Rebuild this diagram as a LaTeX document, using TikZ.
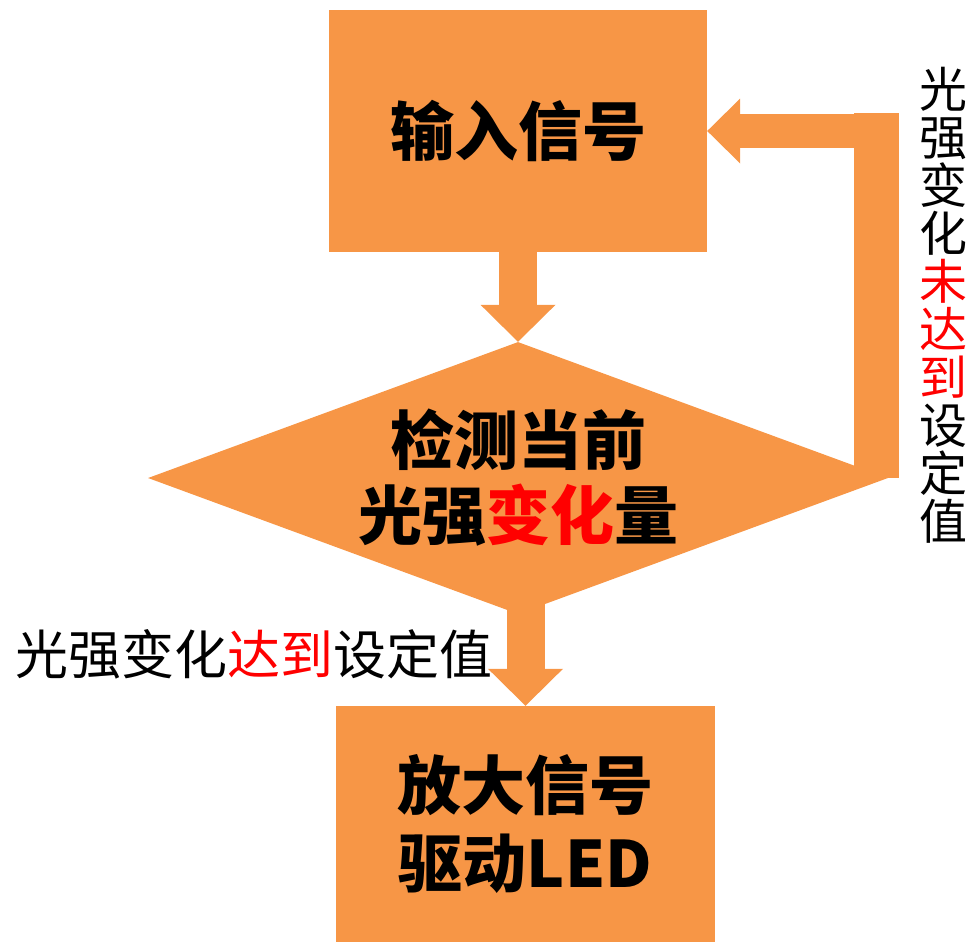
\documentclass[tikz,border=0pt]{standalone}
\usepackage{fontspec}
\newfontfamily\cjk{Noto Sans CJK SC}
\usetikzlibrary{arrows.meta,shapes.geometric,backgrounds}
\definecolor{boxorange}{HTML}{F79646}
\definecolor{hilite}{HTML}{FF0000}

\begin{document}
\begin{tikzpicture}
    [x=1pt,y=-1pt,
    block/.style={rectangle,fill=boxorange,inner sep=0pt,align=center,font=\cjk\bfseries\fontsize{64}{78}\selectfont},
    decision/.style={diamond,aspect=2.72,fill=boxorange,inner sep=0pt,minimum width=740pt,minimum height=272pt,align=center,font=\cjk\bfseries\fontsize{64}{75}\selectfont},
    note/.style={inner sep=0pt,align=center,font=\cjk\fontsize{53}{60}\selectfont},
    flow/.style={draw=boxorange,line width=38pt,-{Triangle[width=75pt,length=37pt,line width=0pt]}},
    riser/.style={draw=boxorange,line width=45pt},
    loopflow/.style={draw=boxorange,line width=34pt,-{Triangle[width=65pt,length=33pt,line width=0pt]}}]
    \useasboundingbox (0,0) rectangle (973,943);
    \node (input) at (518,131) [block,minimum width=378pt,minimum height=242pt] {输入信号};
    \node (detect) at (518,478) [decision] {检测当前\\光强\textcolor{hilite}{变化}量};
    \node (drive) at (525.5,824) [block,minimum width=379pt,minimum height=236pt] {放大信号\\驱动LED};
    \node (reached) at (253.5,654) [note] {光强变化\textcolor{hilite}{达到}设定值};
    \node (notreached) at (943,305.5) [note,font=\cjk\fontsize{48}{48}\selectfont]
        {光\\强\\变\\化\\\textcolor{hilite}{未}\\\textcolor{hilite}{达}\\\textcolor{hilite}{到}\\设\\定\\值};
    \coordinate (turn) at (876.5,113);
    \begin{scope}[on background layer]
        \draw[flow] (input) -- (detect.north);
        \draw[flow] (detect -| drive.north) -- (drive.north);
        \draw[riser] (turn |- detect.east) -- (turn);
        \draw[loopflow] (turn |- input.east) -- (input.east);
    \end{scope}
\end{tikzpicture}
\end{document}
